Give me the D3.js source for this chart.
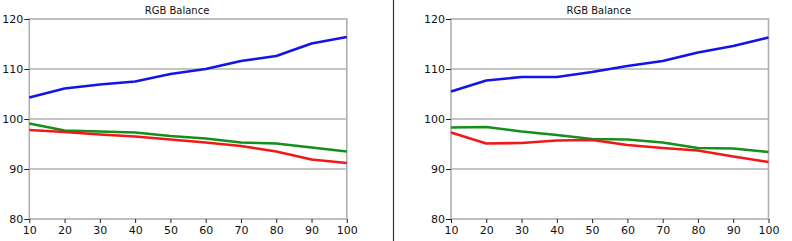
<!DOCTYPE html>
<html>
<head>
<meta charset="utf-8">
<script src="https://cdn.jsdelivr.net/npm/d3@7"></script>
<style>
  body { margin: 0; background: #fff; }
  svg { display: block; }
  .tick text { font-family: "DejaVu Sans", sans-serif; font-size: 11px; fill: #111; }
  .tick line { stroke: #222; }
</style>
</head>
<body>
<div id="chart"></div>
<script>
// brightness levels (x categories)
const levels = [10, 20, 30, 40, 50, 60, 70, 80, 90, 100];
const yTicks = [80, 90, 100, 110, 120];

// left panel
const blueA = [104.3, 106.1, 106.9, 107.5, 109.0, 110.0, 111.6, 112.6, 115.1, 116.4];
const greenA = [99.1, 97.7, 97.5, 97.3, 96.6, 96.1, 95.3, 95.1, 94.3, 93.5];
const redA = [97.8, 97.4, 96.9, 96.5, 95.9, 95.3, 94.6, 93.5, 91.9, 91.2];

// right panel
const blueB = [105.5, 107.7, 108.4, 108.4, 109.4, 110.6, 111.6, 113.3, 114.6, 116.3];
const greenB = [98.3, 98.4, 97.5, 96.8, 96.0, 95.9, 95.3, 94.2, 94.1, 93.4];
const redB = [97.3, 95.1, 95.2, 95.7, 95.8, 94.8, 94.2, 93.7, 92.5, 91.4];

const title = "RGB Balance";

const width = 792, height = 241;
const svg = d3.select("#chart").append("svg")
    .attr("width", width)
    .attr("height", height);

function drawPanel(left, series) {
    const xScale = d3.scaleLinear().domain([10, 100]).range([left, left + 317.5]);
    const yScale = d3.scaleLinear().domain([80, 120]).range([219, 19]);
    const g = svg.append("g");

    // gridlines
    g.selectAll(".grid")
        .data(yTicks.filter(d => d > 80 && d < 120))
        .enter().append("line")
        .attr("x1", xScale(10)).attr("x2", xScale(100))
        .attr("y1", d => yScale(d)).attr("y2", d => yScale(d))
        .attr("stroke", "#8a8a8a")
        .attr("stroke-width", 1);

    // frame
    g.append("rect")
        .attr("x", xScale(10)).attr("y", yScale(120))
        .attr("width", xScale(100) - xScale(10))
        .attr("height", yScale(80) - yScale(120))
        .attr("fill", "none")
        .attr("stroke", "#b0b0b0")
        .attr("stroke-width", 1.6);

    const yAxis = d3.axisLeft(yScale).tickValues(yTicks).tickSize(5).tickPadding(1);
    g.append("g")
        .attr("transform", "translate(" + xScale(10) + ",0)")
        .call(yAxis)
        .call(a => a.select(".domain").remove());

    const xAxis = d3.axisBottom(xScale).tickValues(levels).tickSize(4).tickPadding(3);
    g.append("g")
        .attr("transform", "translate(0," + yScale(80) + ")")
        .call(xAxis)
        .call(a => a.select(".domain").remove());

    const lineFunction = d3.line()
        .x((d, i) => xScale(levels[i]))
        .y(d => yScale(d));

    series.forEach(s => {
        g.append("path")
            .datum(s.values)
            .attr("d", lineFunction)
            .attr("fill", "none")
            .attr("stroke", s.color)
            .attr("stroke-width", 2.6)
            .attr("stroke-linejoin", "round");
    });

    g.append("text")
        .attr("x", (xScale(10) + xScale(100)) / 2 - 11)
        .attr("y", 14)
        .attr("text-anchor", "middle")
        .attr("font-family", "DejaVu Sans, sans-serif")
        .attr("font-size", 10)
        .attr("fill", "#111")
        .text(title);
}

drawPanel(29.3, [
    { values: greenA, color: "#14901a" },
    { values: redA, color: "#f01818" },
    { values: blueA, color: "#1414e6" }
]);
drawPanel(451, [
    { values: greenB, color: "#14901a" },
    { values: redB, color: "#f01818" },
    { values: blueB, color: "#1414e6" }
]);

// separator between the two panels
svg.append("line")
    .attr("x1", 393.5).attr("x2", 393.5)
    .attr("y1", 0).attr("y2", height)
    .attr("stroke", "#333")
    .attr("stroke-width", 1.2);
</script>
</body>
</html>
